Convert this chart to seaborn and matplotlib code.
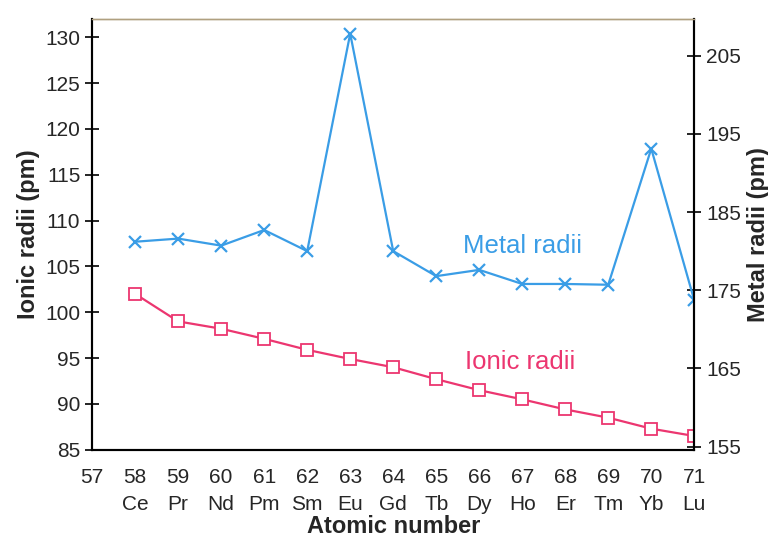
import numpy as np
import pandas as pd
import matplotlib
matplotlib.use("Agg")
import matplotlib.pyplot as plt
import seaborn as sns

# dados
numero_atomico = [58, 59, 60, 61, 62, 63, 64, 65, 66, 67, 68, 69, 70, 71]
elementos = ["Ce", "Pr", "Nd", "Pm", "Sm", "Eu", "Gd", "Tb", "Dy", "Ho", "Er", "Tm", "Yb", "Lu"]
raio_ionico = [102.0, 99.0, 98.2, 97.1, 95.9, 94.9, 94.0, 92.7, 91.5, 90.5, 89.4, 88.5, 87.3, 86.5]
raio_metalico = [181.2, 181.6, 180.7, 182.7, 180.0, 207.8, 180.0, 176.8, 177.6, 175.8, 175.8, 175.7, 193.1, 173.7]

tick_x = [57] + numero_atomico
tick_x_labels = ["57"] + [f"{n}\n{e}" for n, e in zip(numero_atomico, elementos)]
ticks_ionico = [85, 90, 95, 100, 105, 110, 115, 120, 125, 130]
ticks_metalico = [155, 165, 175, 185, 195, 205]

AZUL = "#3a9de6"
ROSA = "#ec3670"

sns.set_style("white")
plt.rcParams["font.family"] = ["Liberation Sans", "DejaVu Sans"]

df = pd.DataFrame({"Z": numero_atomico, "ionico": raio_ionico, "metalico": raio_metalico})

fig = plt.figure(figsize=(7.68, 5.38), dpi=100)
ax = fig.add_axes([0.12, 0.164, 0.784, 0.801])
ax2 = ax.twinx()

sns.lineplot(data=df, x="Z", y="ionico", ax=ax, color=ROSA, marker="s", markersize=9,
             markerfacecolor="white", markeredgecolor=ROSA, markeredgewidth=1.3, linewidth=1.6)
sns.lineplot(data=df, x="Z", y="metalico", ax=ax2, color=AZUL, marker="x", markersize=9,
             markeredgewidth=1.6, markeredgecolor=AZUL, linewidth=1.6)

ax.set_xlim(57, 71)
ax.set_ylim(85, 132)
ax2.set_ylim(154.6, 209.7)

ax.set_xticks(tick_x)
ax.set_xticklabels(tick_x_labels, fontsize=15, linespacing=1.55)
ax.tick_params(axis="x", pad=8)
ax.set_yticks(ticks_ionico)
ax.tick_params(axis="y", labelsize=15)
ax2.set_yticks(ticks_metalico)
ax2.tick_params(axis="y", labelsize=15)

for a in (ax, ax2):
    a.tick_params(direction="inout", length=10, width=1.2, color="black")
    for s in ("left", "right", "bottom"):
        a.spines[s].set_color("black")
        a.spines[s].set_linewidth(1.5)
    a.spines["top"].set_color("#b0a080")
    a.spines["top"].set_linewidth(1.0)

ax.set_xlabel("Atomic number", fontsize=17, fontweight="bold", labelpad=1)
ax.set_ylabel("Ionic radii (pm)", fontsize=17, fontweight="bold", labelpad=4)
ax2.set_ylabel("Metal radii (pm)", fontsize=17, fontweight="bold", labelpad=4)

ax2.text(67.0, 180.6, "Metal radii", color=AZUL, fontsize=18.5, ha="center", va="center")
ax.text(66.95, 94.6, "Ionic radii", color=ROSA, fontsize=18.5, ha="center", va="center")

fig.savefig("out.png", dpi=100)
